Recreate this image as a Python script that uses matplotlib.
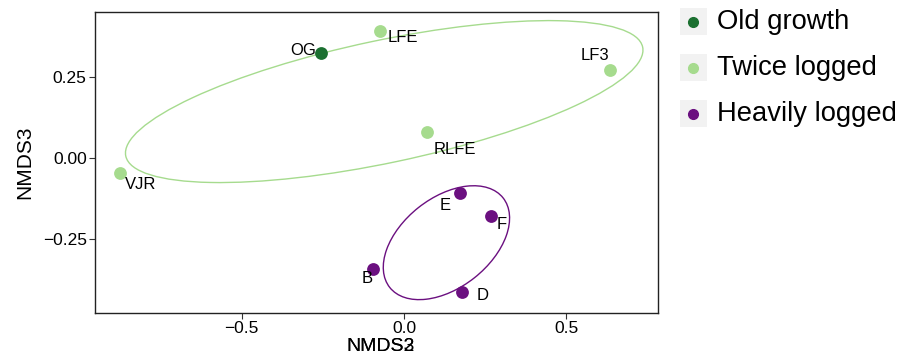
import numpy as np
import matplotlib
matplotlib.use("Agg")
import matplotlib.pyplot as plt
from matplotlib.patches import Ellipse, Rectangle
from matplotlib.lines import Line2D

plt.rcParams['font.family'] = ['Liberation Sans', 'DejaVu Sans']

# ---- data ----
sites = ["OG", "LFE", "LF3", "RLFE", "VJR", "E", "F", "B", "D"]
groups = ["Old growth", "Twice logged", "Twice logged", "Twice logged", "Twice logged",
          "Heavily logged", "Heavily logged", "Heavily logged", "Heavily logged"]
nmds2 = [-0.255, -0.074, 0.634, 0.071, -0.874, 0.172, 0.268, -0.095, 0.178]
nmds3 = [0.324, 0.392, 0.272, 0.080, -0.046, -0.108, -0.179, -0.343, -0.414]
group_order = ["Old growth", "Twice logged", "Heavily logged"]
x_ticks = [-0.5, 0.0, 0.5]
y_ticks = [-0.25, 0.0, 0.25]
x_tick_labels = ["\u22120.5", "0.0", "0.5"]
y_tick_labels = ["\u22120.25", "0.00", "0.25"]

# ---- style ----
colors = {"Old growth": "#1b7030", "Twice logged": "#a6db8e", "Heavily logged": "#6b1080"}
label_offsets = {"OG": (-18, 3), "LFE": (23, -6), "LF3": (-15, 14), "RLFE": (28, -17),
                 "VJR": (21, -11), "E": (-15, -12), "F": (11, -8), "B": (-6, -9), "D": (21, -3)}
ellipse_scale = {"Twice logged": 1.28, "Heavily logged": 1.24}

W, H = 911, 359
fig = plt.figure(figsize=(W / 100, H / 100), dpi=100)
ax = fig.add_axes([95 / W, (H - 313) / H, (658 - 95) / W, (313 - 12) / H])

x = np.array(nmds2)
y = np.array(nmds3)
g = np.array(groups)

# ellipses from each group's covariance
for grp in group_order:
    m = g == grp
    if m.sum() < 3:
        continue
    pts = np.column_stack([x[m], y[m]])
    c = pts.mean(axis=0)
    cov = np.cov(pts.T)
    vals, vecs = np.linalg.eigh(cov)
    order = vals.argsort()[::-1]
    vals, vecs = vals[order], vecs[:, order]
    ang = np.degrees(np.arctan2(vecs[1, 0], vecs[0, 0]))
    k = ellipse_scale[grp]
    e = Ellipse(c, 2 * k * np.sqrt(vals[0]), 2 * k * np.sqrt(vals[1]),
                angle=ang, fill=False, edgecolor=colors[grp], lw=1.0, zorder=2)
    ax.add_patch(e)

for grp in group_order:
    m = g == grp
    ax.scatter(x[m], y[m], s=85, color=colors[grp], zorder=3, linewidths=0)

for s, xi, yi in zip(sites, x, y):
    dx, dy = label_offsets[s]
    ax.annotate(s, (xi, yi), xytext=(dx, dy), textcoords='offset pixels',
                ha='center', va='center', fontsize=12, zorder=4)

ax.set_xlim(-0.951, 0.782)
ax.set_ylim(-0.478, 0.451)
ax.set_xticks(x_ticks)
ax.set_xticklabels(x_tick_labels)
ax.set_yticks(y_ticks)
ax.set_yticklabels(y_tick_labels)
ax.tick_params(axis='both', labelsize=12.5, length=4, width=0.8, color='#333333', pad=2)
for sp in ax.spines.values():
    sp.set_linewidth(1.0)
    sp.set_color('#222222')
ax.set_ylabel("NMDS3", fontsize=15, labelpad=6)
# overlapping x-axis titles as in the reference
ax.set_xlabel("NMDS2", fontsize=14, labelpad=1)
ax.xaxis.label.set_x(0.5 + 4 / 563)
fig.canvas.draw()
bb = ax.xaxis.label.get_window_extent()
fig.text((bb.x0 + bb.x1) / 2 / W, (bb.y0 + bb.y1) / 2 / H, "NMDS3", fontsize=14,
         ha='center', va='center')

# legend (manual, ggplot style keys)
leg_y = [22, 68, 114]
for grp, yy in zip(group_order, leg_y):
    fig.patches.append(Rectangle(((693 - 13) / W, (H - yy - 13) / H), 27 / W, 27 / H,
                                 transform=fig.transFigure, facecolor='#f2f2f2',
                                 edgecolor='none'))
    fig.lines.append(Line2D([693 / W], [(H - yy) / H], transform=fig.transFigure,
                            marker='o', markersize=7, color=colors[grp], linestyle='none'))
    fig.text(717 / W, (H - yy) / H, grp, fontsize=19.7, ha='left', va='center')

fig.savefig("out.png", dpi=100)
